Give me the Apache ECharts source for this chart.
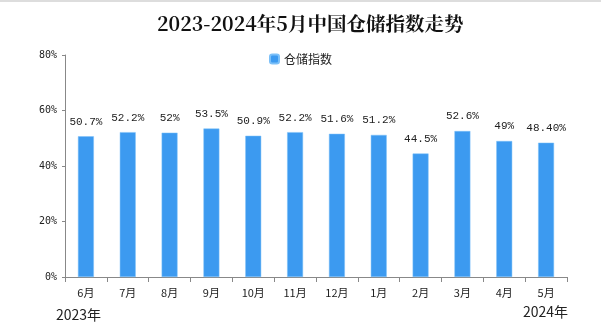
<!DOCTYPE html>
<html><head><meta charset="utf-8">
<script src="https://cdn.jsdelivr.net/npm/echarts@6/dist/echarts.min.js"></script>
<style>html,body{margin:0;padding:0;background:#fff}#c{width:601px;height:327px}</style>
</head><body><div id="c"></div>
<script>
var categories = ['6月','7月','8月','9月','10月','11月','12月','1月','2月','3月','4月','5月'];
var values = [50.7, 52.2, 52, 53.5, 50.9, 52.2, 51.6, 51.2, 44.5, 52.6, 49, 48.4];
var valueLabels = ['50.7%','52.2%','52%','53.5%','50.9%','52.2%','51.6%','51.2%','44.5%','52.6%','49%','48.40%'];
var yearLabels = ['2023年','2024年'];
var seriesName = '仓储指数';
var titleText = '2023-2024年5月中国仓储指数走势';

var chart = echarts.init(document.getElementById('c'));
chart.setOption({
  animation:false,
  title:{text:titleText,left:152,top:9,textStyle:{fontFamily:'"Noto Serif CJK SC","Noto Sans CJK SC",serif',fontSize:19.5,fontWeight:'bold',color:'#111'}},
  legend:{data:[seriesName],top:48,left:'center',itemWidth:9,itemHeight:9,itemGap:3,textStyle:{fontSize:12,color:'#222',fontFamily:'"Noto Sans CJK SC",sans-serif'}},
  grid:{left:65,right:34,top:55,bottom:50,containLabel:false},
  xAxis:{type:'category',data:categories,
    axisLine:{lineStyle:{color:'#888'}},
    axisTick:{show:true,length:5,lineStyle:{color:'#888'}},
    axisLabel:{color:'#222',fontSize:11,margin:10,fontFamily:'"Noto Sans CJK SC",sans-serif'}},
  yAxis:{type:'value',min:0,max:80,interval:20,
    axisLine:{show:true,lineStyle:{color:'#888'}},
    axisTick:{show:true,length:3,lineStyle:{color:'#888'}},
    splitLine:{show:false},
    axisLabel:{formatter:'{value}%',color:'#222',fontSize:10,fontFamily:'"DejaVu Sans Mono",monospace'}},
  series:[{name:seriesName,type:'bar',barWidth:'38%',data:values,
    itemStyle:{color:'#3c9af0',borderColor:'#7cc0f8',borderWidth:0.5},
    label:{show:true,position:'top',distance:9,color:'#222',fontSize:11,fontFamily:'"Liberation Mono","DejaVu Sans Mono",monospace',
      formatter:function(p){return valueLabels[p.dataIndex];}}}],
  graphic:[
    {type:'rect',shape:{x:0,y:0,width:601,height:2},style:{fill:'#ddd'}},
    {type:'text',left:56,top:308,style:{text:yearLabels[0],fontSize:14,fill:'#222',fontFamily:'"Noto Sans CJK SC",sans-serif'}},
    {type:'text',right:33,top:305,style:{text:yearLabels[1],fontSize:14,fill:'#222',fontFamily:'"Noto Sans CJK SC",sans-serif'}}
  ]
});
</script></body></html>
